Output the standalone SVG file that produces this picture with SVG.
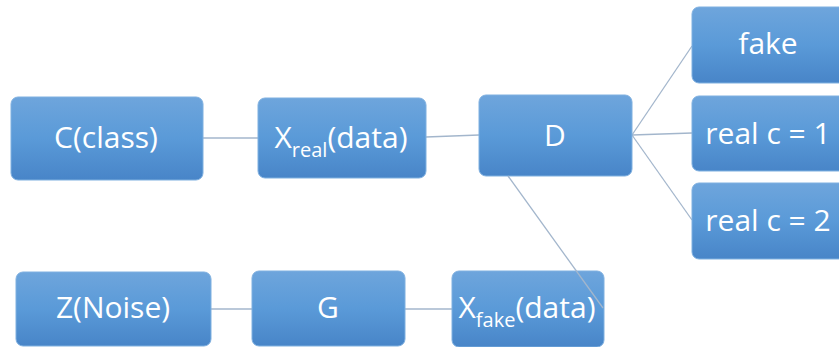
<svg xmlns="http://www.w3.org/2000/svg" width="839" height="347" viewBox="0 0 839 347">
<defs>
<linearGradient id="g" x1="0" y1="0" x2="0" y2="1">
<stop offset="0" stop-color="#6ea5dc"/>
<stop offset="0.5" stop-color="#5a9ad8"/>
<stop offset="1" stop-color="#4885c8"/>
</linearGradient>
<style>
.box{fill:url(#g);stroke:#7fb0e0;stroke-width:1}
.t{font-family:"Open Sans","Liberation Sans",sans-serif;font-size:30px;fill:#ffffff;text-anchor:middle}
.s{font-size:20px}
.c{stroke:#a3b6cc;stroke-width:1.3;fill:none}
</style>
</defs>
<g id="connectors">
<line class="c" x1="203" y1="138" x2="258" y2="138"/>
<line class="c" x1="426" y1="137" x2="479" y2="135"/>
<line class="c" x1="632" y1="135" x2="692" y2="46"/>
<line class="c" x1="632" y1="135" x2="692" y2="133"/>
<line class="c" x1="632" y1="135" x2="692" y2="220"/>
<line class="c" x1="211" y1="309" x2="252" y2="309"/>
<line class="c" x1="405" y1="309" x2="452" y2="309"/>
</g>
<g id="node-c"><rect class="box" x="11" y="97" width="192" height="83" rx="7"/><text class="t" x="106" y="148">C(class)</text></g>
<g id="node-xreal"><rect class="box" x="258" y="98" width="168" height="80" rx="7"/><text class="t" x="341" y="148">X<tspan class="s" dy="9">real</tspan><tspan dy="-9">(data)</tspan></text></g>
<g id="node-d"><rect class="box" x="479" y="95" width="153" height="81" rx="7"/><text class="t" x="555" y="146">D</text></g>
<g id="node-fake"><rect class="box" x="692" y="7" width="155" height="76" rx="7"/><text class="t" x="768" y="54">fake</text></g>
<g id="node-real1"><rect class="box" x="692" y="96" width="155" height="75" rx="7"/><text class="t" x="768" y="144">real c = 1</text></g>
<g id="node-real2"><rect class="box" x="692" y="183" width="155" height="76" rx="7"/><text class="t" x="768" y="231">real c = 2</text></g>
<g id="node-z"><rect class="box" x="16" y="272" width="195" height="74" rx="7"/><text class="t" x="113" y="318">Z(Noise)</text></g>
<g id="node-g"><rect class="box" x="252" y="271" width="153" height="75" rx="7"/><text class="t" x="328" y="318">G</text></g>
<g id="node-xfake"><rect class="box" x="452" y="271" width="152" height="76" rx="7"/><text class="t" x="527" y="318">X<tspan class="s" dy="9">fake</tspan><tspan dy="-9">(data)</tspan></text></g>
<g id="connector-top"><line class="c" x1="508" y1="176" x2="603" y2="308"/></g>
</svg>
